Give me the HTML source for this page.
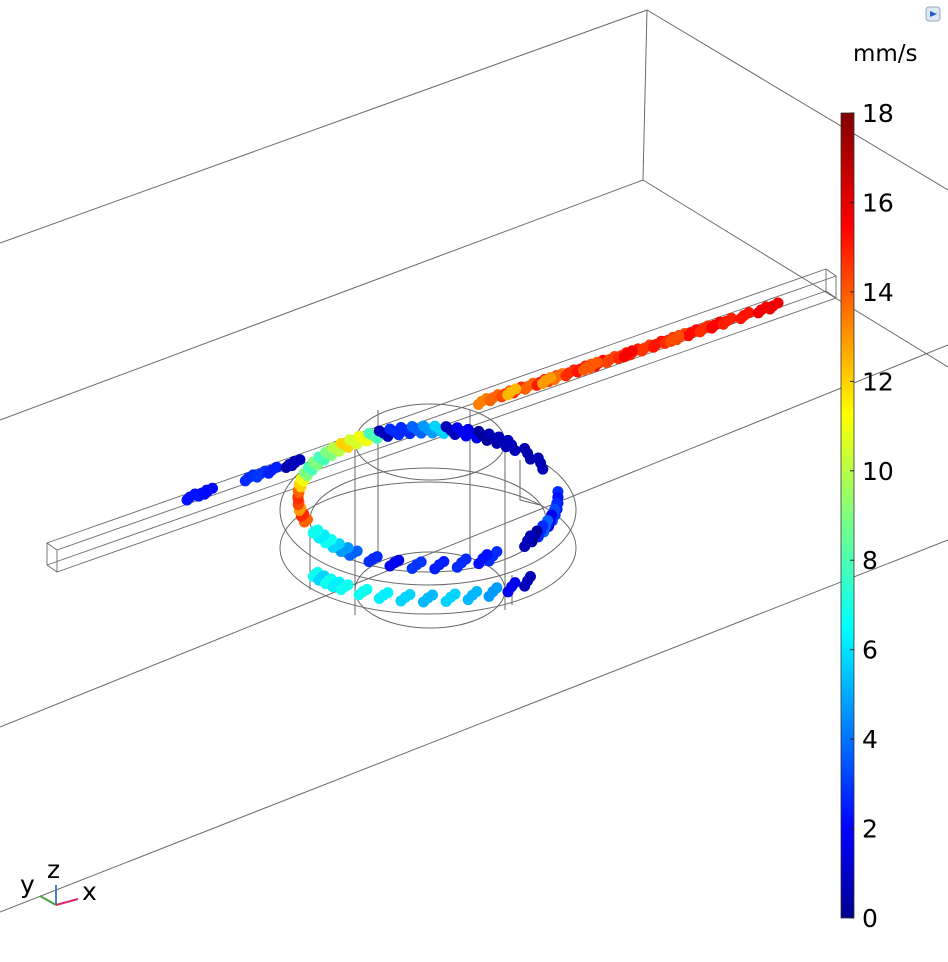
<!DOCTYPE html>
<html><head><meta charset="utf-8"><style>
html,body{margin:0;padding:0;background:#fff;}
svg{display:block;font-family:"DejaVu Sans","Liberation Sans",sans-serif;}
</style></head><body>
<svg id="plot" width="948" height="962" viewBox="0 0 948 962" xmlns="http://www.w3.org/2000/svg">
<defs>
<linearGradient id="jet" x1="0" y1="1" x2="0" y2="0">
<stop offset="0" stop-color="#00008f"/><stop offset="0.11" stop-color="#0000ff"/>
<stop offset="0.36" stop-color="#00ffff"/><stop offset="0.5" stop-color="#7fff7f"/>
<stop offset="0.625" stop-color="#ffff00"/><stop offset="0.86" stop-color="#ff0000"/>
<stop offset="1" stop-color="#800000"/></linearGradient>
</defs>
<g id="geom" stroke="#6a6a6a" stroke-width="1" fill="none">
<path d="M0 243 L647 10 L948 190 M647 10 L643 180 L0 420 M643 180 L948 367 M0 727 L948 345 M0 912 L948 540"/>
<path d="M47 543 L826 269 L836 276 L57 550 Z M57 550 L57 572 L836 298 L836 276 M47 543 L47 565 L57 572 M826 269 L826 291 L836 298 M47 565 L826 291" stroke-width="0.9"/>
<ellipse cx="428" cy="510" rx="148" ry="75"/>
<ellipse cx="428" cy="548" rx="148" ry="66"/>
<ellipse cx="428" cy="520" rx="118" ry="52"/>
<ellipse cx="430" cy="442" rx="75" ry="38"/>
<ellipse cx="430" cy="590" rx="75" ry="38"/>
<path d="M355 440 L355 615 M505 445 L505 610 M378 410 L378 560 M470 410 L470 560 M310 535 L310 590 M520 460 L520 500 L540 505 M512 575 L512 605"/>
</g>
<g id="particles"></g>
<g id="colorbar">
<rect x="841" y="113" width="13" height="805" fill="url(#jet)" stroke="#333" stroke-width="0.8"/>
<text x="853" y="61" font-size="23">mm/s</text>
</g>
<rect x="926" y="7" width="14" height="14" rx="3" fill="#dde6f5" stroke="#9ab"/>
<path d="M930 11 L937 14 L930 17 Z" fill="#1f5fbf"/>
<g id="triad">
<line x1="56" y1="905" x2="56" y2="885" stroke="#4a7fbf" stroke-width="2"/>
<line x1="56" y1="905" x2="40" y2="896" stroke="#4a9f3a" stroke-width="2"/>
<line x1="56" y1="905" x2="78" y2="899" stroke="#d82a6a" stroke-width="2"/>
<text x="47" y="878" font-size="25">z</text>
<text x="20" y="893" font-size="25">y</text>
<text x="82" y="900" font-size="25">x</text>
</g>
</svg>
<script>
const NS='http://www.w3.org/2000/svg';
const cbTicks=[0,2,4,6,8,10,12,14,16,18];
// channel particles: fraction along channel path, speed (mm/s)
const chanS=[0.0,0.02,0.03,0.1,0.12,0.14,0.17,0.18,0.24,0.25,0.26,0.5,0.52,0.54,0.56,0.58,0.6,0.62,0.63,0.65,0.67,0.68,0.7,0.72,0.74,0.76,0.78,0.8,0.82,0.84,0.86,0.88,0.9,0.92,0.95,0.98,1.0,0.55,0.61,0.69,0.75,0.83];
const chanV=[2.5,2.6,2.4,3,3.2,2.8,0.8,1,2,2.2,1.8,13.5,14,14.5,15,14,15.2,14.8,13.8,15,15.4,14.2,15.6,14.6,15,15.2,14.8,15.4,15,14.6,15.6,15,15.8,15.2,15.4,16,16,12.5,13,14.2,15.8,14.4];
// ring particles: angle (deg, 0 = right, 90 = front), level (0 top, 1 bottom), speed
const ringA=[160,165,170,175,180,185,190,195,200,205,150,145,140,135,130,210,215,220,225,230,235,240,245,250,255,260,265,270,275,280,285,290,295,300,305,310,0,5,10,15,20,25,30,35,40,60,70,80,90,100,110,120,60,65,75,85,95,105,115,125,130,135,140,145,150,40,50,320,330];
const ringL=[0,0,0,0,0,0,0,0,0,0,1,1,1,1,1,0,0,0,0,0,0,0,0,0,0,0,0,0,0,0,0,0,0,0,0,0,0,0,0,0,0,0,0,0,0,1,1,1,1,1,1,1,0,0,0,0,0,0,0,0,0,0,0,0,0,1,1,0,0];
const ringV=[14,15,13,14.5,15,14,12,11,9,8,7,6,7,6.5,7,9,8,9,10,12,10.5,11,8,1,3,3,4,5,6,1,2,2,0.5,0.8,1,1,3,2.5,3,3.5,2,4,3,0.5,1,5,5.5,6,5.5,6,6.5,7,3,2.5,3,2.8,3.2,2,3,4,5,6,7,6.5,7,1,2,0.8,1];
const g=document.getElementById('particles');
function jet(v){const t=Math.max(0,Math.min(1,v/18));
 const r=Math.max(0,Math.min(1,1.5-Math.abs(4*t-3))),gg=Math.max(0,Math.min(1,1.5-Math.abs(4*t-2))),b=Math.max(0,Math.min(1,1.5-Math.abs(4*t-1)));
 return `rgb(${r*255|0},${gg*255|0},${b*255|0})`;}
function chanX(s){return 190+s*(773-190);}
function chanY(s){return 497+s*(306-497);}
function ringX(a){return 428+130*Math.cos(a*Math.PI/180);}
function ringY(a,l){return l?(550+48*Math.sin(a*Math.PI/180)):(497+68*Math.sin(a*Math.PI/180));}
function dot(x,y,v,name){const c=document.createElementNS(NS,'circle');
 c.setAttribute('cx',x);c.setAttribute('cy',y);c.setAttribute('r',5.5);c.setAttribute('fill',jet(v));
 
 
 g.appendChild(c);}
chanS.forEach((s,i)=>{dot(chanX(s),chanY(s),chanV[i],'channel-particle');dot(chanX(s)+5,chanY(s)-3,chanV[i],'channel-particle');dot(chanX(s)-3,chanY(s)+3,chanV[i],'channel-particle');});
ringA.forEach((a,i)=>{dot(ringX(a),ringY(a,ringL[i]),ringV[i],'ring-particle');dot(ringX(a+2),ringY(a+2,ringL[i])+4,ringV[i],'ring-particle');dot(ringX(a-2),ringY(a-2,ringL[i])-3,ringV[i],'ring-particle');});
const cb=document.getElementById('colorbar');
cbTicks.forEach(t=>{const y=918-t/18*805;
 const l=document.createElementNS(NS,'line');l.setAttribute('x1',850);l.setAttribute('x2',854);l.setAttribute('y1',y);l.setAttribute('y2',y);l.setAttribute('stroke','#222');
 
 
 cb.appendChild(l);
 const tx=document.createElementNS(NS,'text');tx.setAttribute('x',862);tx.setAttribute('y',y+9);tx.setAttribute('font-size',25);tx.textContent=t;
 
 
 cb.appendChild(tx);});
</script>
</body></html>
